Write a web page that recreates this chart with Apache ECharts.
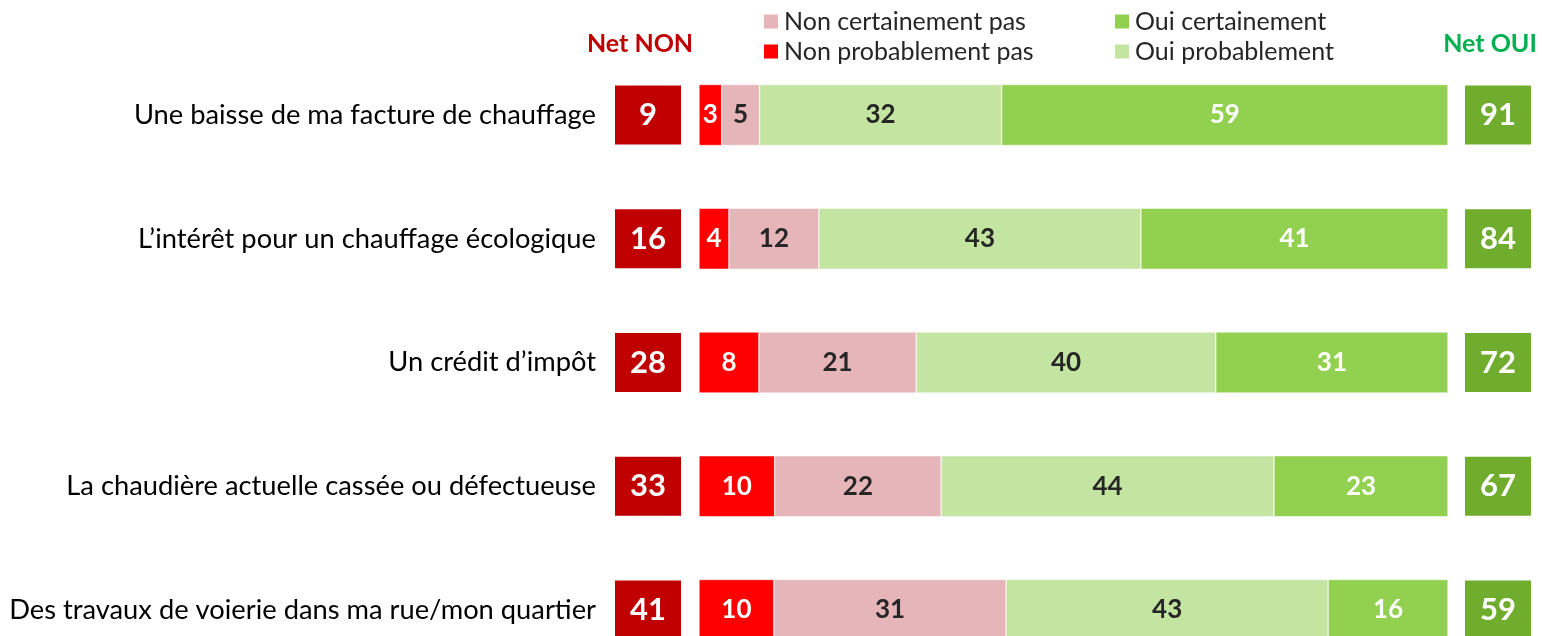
<!DOCTYPE html>
<html>
<head>
<meta charset="utf-8">
<title>Net NON / Net OUI</title>
<script src="https://cdn.jsdelivr.net/npm/echarts@6/dist/echarts.min.js"></script>
<style>
  html, body { margin: 0; padding: 0; background: #ffffff; }
  #chart { width: 1542px; height: 636px; }
</style>
</head>
<body>
<div id="chart"></div>
<script>
// données
const categories = [
  "Une baisse de ma facture de chauffage",
  "L\u2019intérêt pour un chauffage écologique",
  "Un crédit d\u2019impôt",
  "La chaudière actuelle cassée ou défectueuse",
  "Des travaux de voierie dans ma rue/mon quartier"
];
const nonProbablement = [3, 4, 8, 10, 10];
const nonCertainement = [5, 12, 21, 22, 31];
const ouiProbablement = [32, 43, 40, 44, 43];
const ouiCertainement = [59, 41, 31, 23, 16];
const netNon = [9, 16, 28, 33, 41];
const netOui = [91, 84, 72, 67, 59];

const FONT = "Lato";
// centre de la 1re ligne et de la dernière
const TOP = 115;
const HEIGHT = 495;

// barres à 100 % : chaque ligne est ramenée à son total
const totals = categories.map((c, i) =>
  nonProbablement[i] + nonCertainement[i] + ouiProbablement[i] + ouiCertainement[i]);
const toPct = (arr) => arr.map((v, i) => ({ value: v / totals[i] * 100, raw: v }));

function segment(name, arr, color, textColor) {
  return {
    name: name,
    type: "bar",
    stack: "total",
    xAxisIndex: 1,
    yAxisIndex: 1,
    barWidth: 61,
    data: toPct(arr),
    itemStyle: { color: color, borderColor: "#ffffff", borderWidth: 0.5 },
    label: {
      show: true,
      position: "inside",
      formatter: (p) => p.data.raw,
      color: textColor,
      fontFamily: FONT,
      fontWeight: "bold",
      fontSize: 26
    }
  };
}

function netBox(arr, color, idx) {
  return {
    name: idx === 0 ? "Net NON" : "Net OUI",
    type: "bar",
    xAxisIndex: idx,
    yAxisIndex: idx,
    barWidth: 59,
    data: arr.map((v) => ({ value: 1, raw: v })),
    itemStyle: { color: color },
    label: {
      show: true,
      position: "inside",
      formatter: (p) => p.data.raw,
      color: "#ffffff",
      fontFamily: FONT,
      fontWeight: "bold",
      fontSize: 31
    }
  };
}

const chart = echarts.init(document.getElementById("chart"));

const hiddenX = (gridIndex, max) => ({
  type: "value", gridIndex: gridIndex, min: 0, max: max,
  show: false
});
const catY = (gridIndex, showLabels) => ({
  type: "category",
  gridIndex: gridIndex,
  data: categories,
  inverse: true,
  boundaryGap: false,
  axisLine: { show: false },
  axisTick: { show: false },
  splitLine: { show: false },
  axisLabel: showLabels ? {
    show: true,
    margin: 19,
    color: "#000000",
    fontFamily: FONT,
    fontSize: 27.3
  } : { show: false }
});

const legendText = { fontFamily: FONT, fontSize: 25, color: "#262626" };

chart.setOption({
  animation: false,
  grid: [
    { left: 615, width: 66, top: TOP, height: HEIGHT },
    { left: 699, width: 749, top: TOP, height: HEIGHT },
    { left: 1465, width: 66, top: TOP, height: HEIGHT }
  ],
  xAxis: [hiddenX(0, 1), hiddenX(1, 100), hiddenX(2, 1)],
  yAxis: [catY(0, true), catY(1, false), catY(2, false)],
  legend: [
    {
      left: 762, top: 9, orient: "vertical", padding: 0,
      itemWidth: 16, itemHeight: 16, itemGap: 5, icon: "rect",
      data: ["Non certainement pas", "Non probablement pas"],
      textStyle: legendText
    },
    {
      left: 1113, top: 9, orient: "vertical", padding: 0,
      itemWidth: 16, itemHeight: 16, itemGap: 5, icon: "rect",
      data: ["Oui certainement", "Oui probablement"],
      textStyle: legendText
    }
  ],
  graphic: [
    {
      type: "text", x: 640, y: 44,
      style: {
        text: "Net NON", fill: "#C00000", font: "bold 25px " + FONT,
        textAlign: "center", textVerticalAlign: "middle"
      }
    },
    {
      type: "text", x: 1490, y: 44,
      style: {
        text: "Net OUI", fill: "#00B050", font: "bold 25px " + FONT,
        textAlign: "center", textVerticalAlign: "middle"
      }
    }
  ],
  series: [
    netBox(netNon, "#C00000", 0),
    segment("Non probablement pas", nonProbablement, "#FF0000", "#ffffff"),
    segment("Non certainement pas", nonCertainement, "#E6B5B9", "#262626"),
    segment("Oui probablement", ouiProbablement, "#C4E4A1", "#262626"),
    segment("Oui certainement", ouiCertainement, "#92D050", "#ffffff"),
    netBox(netOui, "#70AD2F", 2)
  ]
});
</script>
</body>
</html>
